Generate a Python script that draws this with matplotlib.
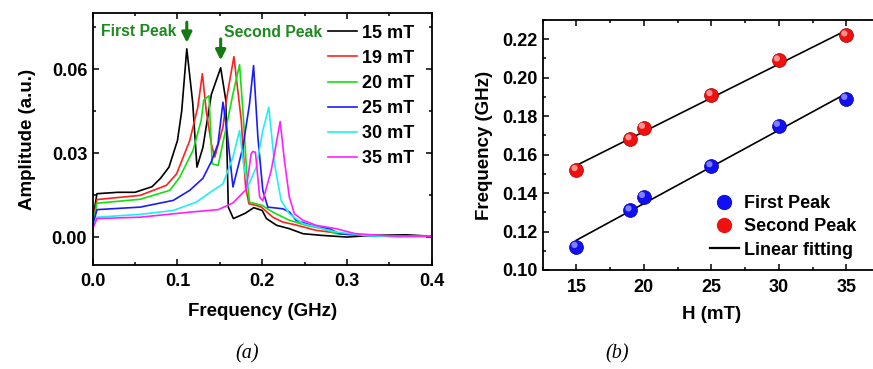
import matplotlib
matplotlib.use('Agg')
import matplotlib.pyplot as plt
from matplotlib.ticker import MultipleLocator, FormatStrFormatter
from matplotlib.lines import Line2D
import matplotlib.transforms as mtransforms
import numpy as np

plt.rcParams['font.family'] = ['Liberation Sans', 'DejaVu Sans']
plt.rcParams['font.weight'] = 'bold'

# (a) spectra: frequency (GHz) / amplitude (a.u.) for each field
fields = ['15 mT', '19 mT', '20 mT', '25 mT', '30 mT', '35 mT']
line_colors = ['black', '#ff2020', '#10e010', '#1a1aff', '#20f0f0', '#ff20ff']

f_15 = [0, 0.005, 0.03, 0.05, 0.07, 0.08, 0.09, 0.1, 0.105, 0.111, 0.118, 0.123, 0.13, 0.14,
        0.151, 0.157, 0.16, 0.166, 0.18, 0.19, 0.2, 0.205, 0.217, 0.232, 0.248, 0.27, 0.3,
        0.33, 0.37, 0.4]
a_15 = [0.006, 0.0155, 0.016, 0.016, 0.018, 0.021, 0.025, 0.0345, 0.045, 0.0673, 0.048, 0.025,
        0.032, 0.051, 0.0605, 0.049, 0.0107, 0.0066, 0.0085, 0.0105, 0.0095, 0.0066, 0.0042,
        0.003, 0.0012, 0.0006, 0.0, 0.0006, 0.0008, 0.0003]

f_19 = [0, 0.005, 0.056, 0.087, 0.099, 0.1145, 0.124, 0.1294, 0.134, 0.14, 0.144, 0.1537, 0.1576,
        0.1666, 0.1753, 0.1804, 0.1843, 0.193, 0.199, 0.2125, 0.224, 0.24, 0.2635, 0.3, 0.35, 0.4]
a_19 = [0.005, 0.0134, 0.0149, 0.0185, 0.0226, 0.0345, 0.0464, 0.0584, 0.045, 0.0333, 0.0286,
        0.0393, 0.0488, 0.0645, 0.0417, 0.0179, 0.0119, 0.0113, 0.0107, 0.0071, 0.0054, 0.0043,
        0.0024, 0.001, 0.0004, 0.0003]

f_20 = [0, 0.005, 0.056, 0.091, 0.1027, 0.1184, 0.128, 0.131, 0.1372, 0.141, 0.148, 0.1576,
        0.1655, 0.1733, 0.178, 0.182, 0.185, 0.2, 0.2125, 0.232, 0.2518, 0.271, 0.287, 0.32,
        0.36, 0.4]
a_20 = [0.0045, 0.0121, 0.0135, 0.0167, 0.0214, 0.031, 0.0417, 0.049, 0.0505, 0.0262, 0.0256,
        0.0393, 0.0512, 0.0616, 0.0417, 0.0214, 0.0125, 0.0113, 0.0089, 0.006, 0.0042, 0.003,
        0.0012, 0.0006, 0.0003, 0.0004]

f_25 = [0, 0.005, 0.056, 0.095, 0.1145, 0.13, 0.14, 0.1478, 0.1537, 0.1584, 0.1655, 0.1772,
        0.185, 0.1898, 0.1949, 0.2007, 0.2066, 0.2243, 0.232, 0.24, 0.2635, 0.279, 0.291, 0.32,
        0.36, 0.4]
a_25 = [0.004, 0.0098, 0.0107, 0.0131, 0.0167, 0.021, 0.027, 0.0333, 0.0482, 0.0381, 0.0179,
        0.0321, 0.0476, 0.0613, 0.0357, 0.0167, 0.0107, 0.0101, 0.009, 0.006, 0.0036, 0.003,
        0.0012, 0.0006, 0.0002, 0.0003]

f_30 = [0, 0.005, 0.056, 0.095, 0.1224, 0.142, 0.1537, 0.1655, 0.1733, 0.178, 0.183, 0.193,
        0.2007, 0.2078, 0.2145, 0.2223, 0.232, 0.248, 0.271, 0.287, 0.32, 0.36, 0.4]
a_30 = [0.0035, 0.0071, 0.0081, 0.0095, 0.0125, 0.0167, 0.019, 0.0286, 0.0381, 0.0262, 0.0179,
        0.025, 0.0381, 0.0464, 0.0262, 0.0131, 0.0083, 0.0048, 0.003, 0.0018, 0.0006, 0.0,
        0.0003]

f_35 = [0, 0.005, 0.056, 0.1145, 0.148, 0.1655, 0.181, 0.187, 0.189, 0.192, 0.197, 0.2007,
        0.2106, 0.2165, 0.2212, 0.2262, 0.232, 0.238, 0.248, 0.2635, 0.287, 0.31, 0.35, 0.4]
a_35 = [0.003, 0.0066, 0.0071, 0.0089, 0.0098, 0.0122, 0.017, 0.0298, 0.0306, 0.0303, 0.0143,
        0.013, 0.0238, 0.0333, 0.0413, 0.0274, 0.0143, 0.0083, 0.006, 0.0042, 0.003, 0.0012,
        0.0004, 0.0003]

freqs = [f_15, f_19, f_20, f_25, f_30, f_35]
amps = [a_15, a_19, a_20, a_25, a_30, a_35]

# (b) peak positions vs field
H = [15, 19, 20, 25, 30, 35]
first_peak = [0.112, 0.131, 0.138, 0.154, 0.175, 0.189]
second_peak = [0.152, 0.168, 0.174, 0.191, 0.209, 0.222]

fig = plt.figure(figsize=(8.73, 3.69), dpi=100)

def style_axes(ax, xpad, ypad):
    for s in ax.spines.values():
        s.set_linewidth(1.3)
    ax.tick_params(which='both', direction='in', top=True, right=True, width=1.1,
                   labelsize=13)
    ax.tick_params(which='major', length=4.5)
    ax.tick_params(which='minor', length=2.5)
    ax.tick_params(axis='x', pad=xpad)
    ax.tick_params(axis='y', pad=ypad)
    for lab in ax.get_xticklabels() + ax.get_yticklabels():
        lab.set_fontweight('bold')

# ---- panel (a)
ax1 = fig.add_axes([0.1062, 0.2818, 0.3883, 0.6822])
for f, a, lab, c in zip(freqs, amps, fields, line_colors):
    ax1.plot(f, a, color=c, lw=1.2, label=lab)
ax1.set_xlim(0, 0.4)
ax1.set_ylim(-0.01, 0.08)
ax1.xaxis.set_major_locator(MultipleLocator(0.1))
ax1.xaxis.set_minor_locator(MultipleLocator(0.05))
ax1.yaxis.set_major_locator(MultipleLocator(0.03))
ax1.yaxis.set_minor_locator(MultipleLocator(0.015))
ax1.xaxis.set_major_formatter(FormatStrFormatter('%.1f'))
ax1.yaxis.set_major_formatter(FormatStrFormatter('%.2f'))
style_axes(ax1, 6, 4)
ax1.set_xlabel('Frequency (GHz)', fontsize=13.5, fontweight='bold', labelpad=9)
ax1.set_ylabel('Amplitude (a.u.)', fontsize=13.5, fontweight='bold', labelpad=11)

peak_green = '#1f8a1f'
arrow_kw = dict(arrowstyle='-|>,head_width=0.3,head_length=0.6', color='#137a13', lw=2.2)
ax1.annotate('', xy=(0.111, 0.0685), xytext=(0.111, 0.0778), arrowprops=arrow_kw)
ax1.annotate('', xy=(0.151, 0.0622), xytext=(0.151, 0.0718), arrowprops=arrow_kw)
ax1.text(0.0094, 0.0735, 'First Peak', color=peak_green, fontsize=11.3, fontweight='bold',
         va='center', ha='left')
ax1.text(0.155, 0.0733, 'Second Peak', color=peak_green, fontsize=11.3, fontweight='bold',
         va='center', ha='left')

ax1.legend(loc='upper left', bbox_to_anchor=(0.694, 0.955), frameon=False,
           handlelength=1.6, handletextpad=0.3, labelspacing=0.45, borderaxespad=0,
           borderpad=0, prop=dict(weight='bold', size=13))

# ---- panel (b)
ax2 = fig.add_axes([0.6217, 0.2683, 0.3863, 0.6775])
hx = np.array([15, 35])
for y in (first_peak, second_peak):
    k, b = np.polyfit(H, y, 1)
    ax2.plot(hx, k * hx + b, color='black', lw=1.2, zorder=2)

hl = mtransforms.offset_copy(ax2.transData, fig=fig, x=-1.4, y=1.4, units='points')
ax2.scatter(H, first_peak, s=100, color='#1010f0', edgecolors='#0000a0', linewidths=0.5,
            zorder=3)
ax2.scatter(H, first_peak, s=20, color='#8080ff', edgecolors='none', zorder=4, transform=hl)
ax2.scatter(H, second_peak, s=100, color='#f01010', edgecolors='#a00000', linewidths=0.5,
            zorder=3)
ax2.scatter(H, second_peak, s=20, color='#ff9090', edgecolors='none', zorder=4, transform=hl)

ax2.set_xlim(12.5, 37.5)
ax2.set_ylim(0.10, 0.23)
ax2.xaxis.set_major_locator(MultipleLocator(5))
ax2.xaxis.set_minor_locator(MultipleLocator(2.5))
ax2.yaxis.set_major_locator(MultipleLocator(0.02))
ax2.yaxis.set_minor_locator(MultipleLocator(0.01))
ax2.yaxis.set_major_formatter(FormatStrFormatter('%.2f'))
style_axes(ax2, 6.5, 4)
ax2.set_xlabel('H (mT)', fontsize=13.5, fontweight='bold', labelpad=7)
ax2.set_ylabel('Frequency (GHz)', fontsize=13.5, fontweight='bold', labelpad=6)

handles = [Line2D([], [], ls='none', marker='o', ms=10, color='#1010f0'),
           Line2D([], [], ls='none', marker='o', ms=10, color='#f01010'),
           Line2D([], [], color='black', lw=1.6)]
ax2.legend(handles, ['First Peak', 'Second Peak', 'Linear fitting'], loc='lower left',
           bbox_to_anchor=(0.496, 0.045), frameon=False, handlelength=1.6, handletextpad=0.3,
           labelspacing=0.35, borderaxespad=0, borderpad=0, prop=dict(weight='bold', size=13))

fig.text(247 / 873, 1 - 354 / 369, '(a)', fontsize=14.5, style='italic', fontweight='normal',
         family='Liberation Serif', ha='center', va='center')
fig.text(617 / 873, 1 - 354 / 369, '(b)', fontsize=14.5, style='italic', fontweight='normal',
         family='Liberation Serif', ha='center', va='center')

fig.savefig('out.png', dpi=100)
